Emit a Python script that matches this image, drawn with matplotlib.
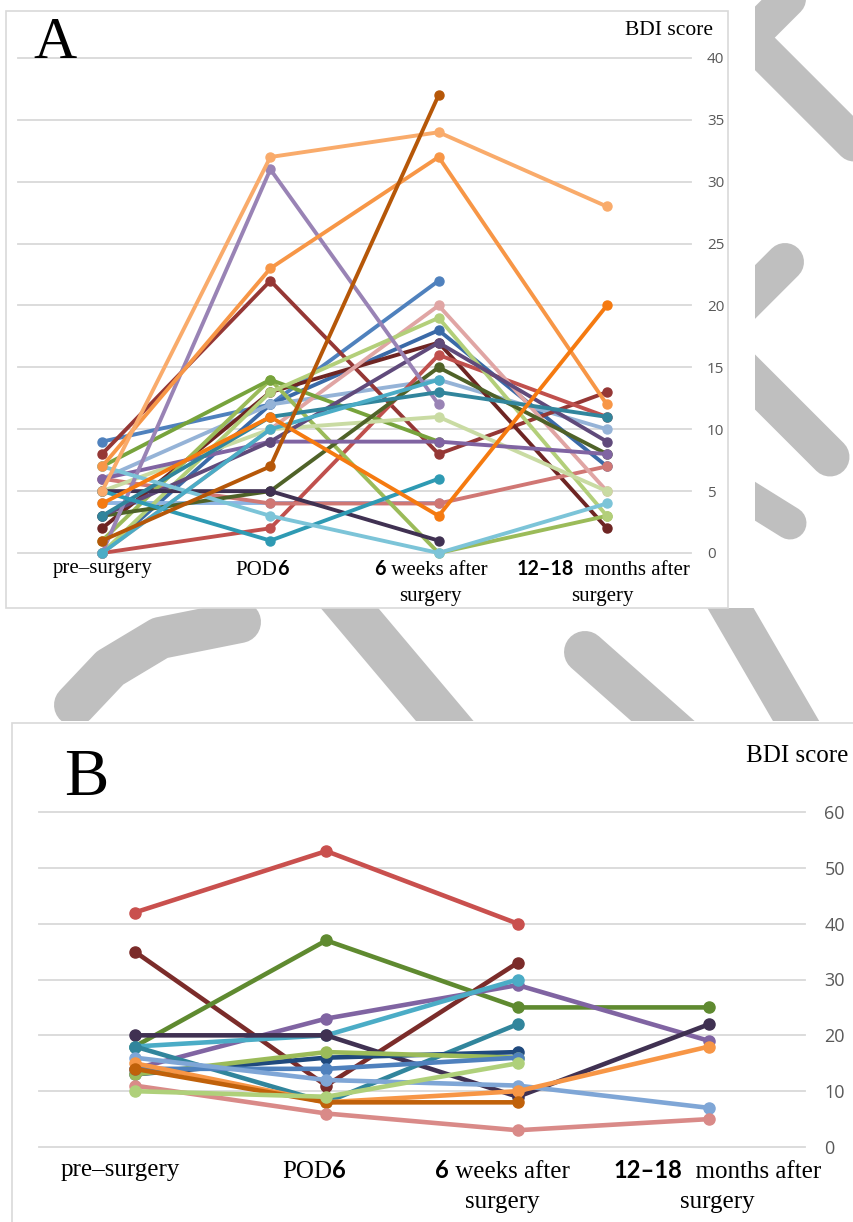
import matplotlib
matplotlib.use("Agg")
import matplotlib.pyplot as plt
from matplotlib.lines import Line2D
from matplotlib.patches import Rectangle
from matplotlib.offsetbox import TextArea, HPacker, VPacker, AnnotationBbox

W, H = 854, 1222

categories = ["pre-surgery", "POD6", "6 weeks after surgery", "12-18 months after surgery"]

# panel A - one column per patient, None = no value at that time point
a_pre  = [9, 0, 6, 4, 8, 2, 0, 6, 0, 1, 7, 0, 5, 3, 6, 3, 5, 0, 3, 5, 7, 0, 7, 4, 5, 1]
a_pod6 = [12, 12, 12, 4, 22, 13, 2, 4, 10, 14, 14, 13, 10, 5, 9, 9, 5, 31, 11, 1, 3, 10, 23, 11, 32, 7]
a_wk6  = [22, 18, 14, 4, 8, 17, 16, 4, 20, 0, 9, 19, 11, 15, 9, 17, 1, 12, 13, 6, 0, 14, 32, 3, 34, 37]
a_mo12 = [None, 7, 10, None, 13, 2, 11, 7, 5, 3, None, 3, 5, 8, 8, 9, None, None, 11, None, 4, None, 12, 20, 28, None]
a_colors = ['#4F81BD', '#3A6AA8', '#95B3D7', '#8EB4E3', '#953735', '#6E2523', '#C0504D',
            '#D07774', '#E0A5A4', '#9BBB59', '#77A33C', '#B3CF7A', '#C9DBA3', '#4F6228',
            '#8064A2', '#604A7B', '#403152', '#9983B5', '#31859C', '#2E9AB3', '#7CC4D8',
            '#4BACC6', '#F79646', '#F57A10', '#F9AB6B', '#B65708']

# panel B
b_pre  = [42, 35, 18, 14, 18, 20, 18, 13, 13, 14, 16, 15, 14, 11, 10]
b_pod6 = [53, 11, 37, 23, 20, 20, 8, 16, 17, 14, 12, 8, 8, 6, 9]
b_wk6  = [40, 33, 25, 29, 30, 9, 22, 17, 16, 16, 11, 10, 8, 3, 15]
b_mo12 = [None, None, 25, 19, None, 22, None, None, None, None, 7, 18, None, 5, None]
b_colors = ['#C9504E', '#7B2C2A', '#5F8A30', '#8064A2', '#4BACC6', '#403152', '#31859C',
            '#1F497D', '#9BBB59', '#4F81BD', '#7FA6D6', '#F79646', '#C0610A', '#D98A88',
            '#AFD07A']

a_ticks = list(range(0, 41, 5))
b_ticks = list(range(0, 61, 10))

SERIF = 'Liberation Serif'
GRID = '#d9d9d9'


def fx(px):
    return px / W


def fy(py):
    return 1 - py / H


fig = plt.figure(figsize=(W / 100, H / 100), dpi=100)

# grey watermark strokes behind the two white panels
wm = '#bfbfbf'
strokes = [
    ([812, 745], [-25, 42], 36),
    ([740, 900], [29, 189], 37),
    ([785, 700], [262, 347], 38),
    ([720, 830], [347, 457], 39),
    ([700, 790], [467, 523], 33),
    ([75, 110, 160, 240], [705, 668, 638, 622], 42),
    ([330, 465], [585, 745], 44),
    ([585, 690], [652, 745], 42),
    ([720, 810], [590, 745], 40),
]
for xs, ys, w in strokes:
    fig.add_artist(Line2D([fx(x) for x in xs], [fy(y) for y in ys], color=wm,
                          lw=w * 0.72, solid_capstyle='round', zorder=-3,
                          transform=fig.transFigure))

fig.add_artist(Rectangle((0, fy(608)), fx(755), 608 / H, transform=fig.transFigure,
                         facecolor='white', edgecolor='none', zorder=-2))
fig.add_artist(Rectangle((0, 0), 1, fy(721), transform=fig.transFigure,
                         facecolor='white', edgecolor='none', zorder=-2))
# panel frames
fig.add_artist(Rectangle((fx(6), fy(608)), fx(722), 597 / H, transform=fig.transFigure,
                         facecolor='none', edgecolor=GRID, lw=1.2, zorder=-1))
fig.add_artist(Rectangle((fx(12), fy(1240)), fx(860), 517 / H, transform=fig.transFigure,
                         facecolor='none', edgecolor=GRID, lw=1.2, zorder=-1))


def cat_label(ax, i, lines, size, dy, dx, sep):
    serif = dict(family=SERIF, size=size, color='black')
    bold = dict(family='Lato', size=size * 0.95, weight='bold', color='black')
    rows = []
    for line in lines:
        kids = [TextArea(t, textprops=(bold if b else serif)) for t, b in line]
        rows.append(HPacker(children=kids, align='baseline', pad=0, sep=0))
    box = VPacker(children=rows, align='center', pad=0, sep=sep)
    ab = AnnotationBbox(box, (i, 0), xycoords=('data', 'axes fraction'),
                        xybox=(dx * 0.72, -dy * 0.72), boxcoords='offset points',
                        box_alignment=(0.5, 1), frameon=False, pad=0,
                        annotation_clip=False)
    ax.add_artist(ab)


label_parts = [
    [[("pre\u2013surgery", False)]],
    [[("POD", False), ("6", True)]],
    [[("6", True), (" weeks after", False)], [("surgery", False)]],
    [[("12\u201318", True), ("  months after", False)], [("surgery", False)]],
]


def panel(rect, cols, colors, ticks, tsize, lw, ms, lsize, ldy, ldx, lsep, tpad):
    ax = fig.add_axes(rect)
    ax.set_facecolor('none')
    x = list(range(len(categories)))
    for k, c in enumerate(colors):
        pts = [(i, col[k]) for i, col in zip(x, cols) if col[k] is not None]
        ax.plot([p[0] for p in pts], [p[1] for p in pts], color=c, lw=lw,
                marker='o', ms=ms, clip_on=False, zorder=3)
    ax.set_xlim(-0.5, len(categories) - 0.5)
    ax.set_ylim(ticks[0], ticks[-1])
    ax.set_yticks(ticks)
    ax.set_xticks([])
    for s in ax.spines.values():
        s.set_visible(False)
    ax.yaxis.grid(True, color=GRID, lw=1.3, clip_on=False)
    ax.set_axisbelow(True)
    ax.tick_params(axis='y', left=False, labelleft=False, right=False, labelright=True,
                   length=0, pad=tpad, labelsize=tsize, labelcolor='#595959')
    for t in ax.get_yticklabels():
        t.set_family('Open Sans')
    for i, lines in enumerate(label_parts):
        cat_label(ax, i, lines, lsize, ldy, ldx[i], lsep)
    return ax


ax_a = panel([fx(18), fy(553), fx(673), 495 / H], [a_pre, a_pod6, a_wk6, a_mo12], a_colors,
             a_ticks, 11, 2.8, 6.5, 15, 6, [0, -8, -8, -4], 5, 11.5)
ax_b = panel([fx(39), fy(1147), fx(766), 335 / H], [b_pre, b_pod6, b_wk6, b_mo12], b_colors,
             b_ticks, 13, 3.3, 8, 18, 12, [-14, -12, -15, 8], 6, 14)

fig.text(fx(33), fy(58), "A", family=SERIF, size=43, va='baseline', ha='left')
fig.text(fx(713), fy(35), "BDI score", family=SERIF, size=15.5, va='baseline', ha='right')
fig.text(fx(64), fy(795), "B", family=SERIF, size=48, va='baseline', ha='left')
fig.text(fx(848), fy(762), "BDI score", family=SERIF, size=18, va='baseline', ha='right')

fig.savefig('out.png', dpi=100)
